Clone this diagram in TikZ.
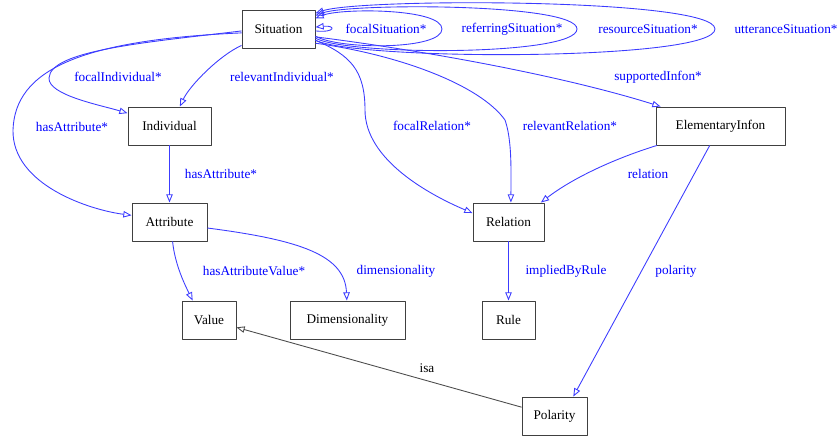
\documentclass[tikz,border=0pt]{standalone}
\usepackage{fontspec}
\setmainfont{Liberation Serif}
\usetikzlibrary{arrows.meta}
\begin{document}
\begin{tikzpicture}[x=0.03cm, y=-0.03cm, font=\fontsize{11.3}{13}\selectfont, line join=round,
  >={Triangle[open,length=7pt,width=5.5pt]},
  box/.style={draw=black!75, line width=0.8pt, minimum height=1.14cm, inner sep=0pt},
  edge/.style={->, draw={rgb,255:red,60;green,60;blue,255}, line width=0.75pt},
  isaedge/.style={->, draw=black!70, line width=0.75pt},
  lbl/.style={text=blue, inner sep=1pt}]
\useasboundingbox (0,0) rectangle (837,436);
% classes
\node[box, minimum width=2.19cm] (sit) at (278.5,29) {Situation};
\node[box, minimum width=2.49cm] (ind) at (169.5,126) {Individual};
\node[box, minimum width=2.25cm] (attr) at (169.5,222) {Attribute};
\node[box, minimum width=1.62cm] (val) at (209,320) {Value};
\node[box, minimum width=3.45cm] (dim) at (347.5,320) {Dimensionality};
\node[box, minimum width=2.13cm] (rel) at (508.5,222) {Relation};
\node[box, minimum width=1.59cm] (rule) at (508.5,320) {Rule};
\node[box, minimum width=3.87cm] (info) at (720.5,126) {ElementaryInfon};
\node[box, minimum width=1.95cm] (pol) at (554.5,416) {Polarity};
% self loops of Situation
\draw[edge] (sit.-3) .. controls (336,33) and (336,25) .. (sit.3);
\draw[edge] (sit.-11) .. controls (340,50) and (442,50) .. (442,29) .. controls (442,8) and (340,8) .. (sit.16);
\draw[edge] (sit.-14) .. controls (350,56) and (577,56) .. (577,29) .. controls (577,3) and (350,3) .. (sit.20);
\draw[edge] (sit.-17) .. controls (360,61) and (715,61) .. (715,29) .. controls (715,-2) and (360,-2) .. (sit.23);
% other edges
\draw[edge] (sit.183) .. controls (150,42) and (50,50) .. (49,78) .. controls (48,95) and (100,105) .. (ind.163);
\draw[edge] (sit.186) .. controls (80,40) and (15,70) .. (13,130) .. controls (12,185) and (90,210) .. (attr.170);
\draw[edge] (sit.204) .. controls (220,55) and (190,85) .. (ind.62);
\draw[edge] (ind.south) -- (attr.north);
\draw[edge] (attr.-81) .. controls (175,265) and (185,285) .. (val.130);
\draw[edge] (attr.-9) .. controls (300,240) and (345,255) .. (dim.92);
\draw[edge] (sit.-17) .. controls (350,55) and (365,70) .. (365,110) .. controls (365,160) and (430,195) .. (rel.166);
\draw[edge] (sit.-21) .. controls (400,55) and (480,85) .. (505,120) .. controls (512,140) and (511,170) .. (rel.83);
\draw[edge] (sit.-12) .. controls (420,50) and (560,75) .. (info.162);
\draw[edge] (info.197) .. controls (610,160) and (570,180) .. (rel.31);
\draw[edge] (info.241) -- (pol.46);
\draw[edge] (rel.south) -- (rule.north);
\draw[isaedge] (pol.165) -- (val.-15);
% labels
\node[lbl] (lfs) at (386,29) {focalSituation*};
\node[lbl] (lrfs) at (512,29) {referringSituation*};
\node[lbl] (lrss) at (648,29) {resourceSituation*};
\node[lbl] (lus) at (786,29) {utteranceSituation*};
\node[lbl] (lfi) at (118,77) {focalIndividual*};
\node[lbl] (lri) at (282,77) {relevantIndividual*};
\node[lbl] (lha) at (72,127) {hasAttribute*};
\node[lbl] (lhai) at (221,174) {hasAttribute*};
\node[lbl] (lsi) at (658,77) {supportedInfon*};
\node[lbl] (lfr) at (432,126) {focalRelation*};
\node[lbl] (lrr) at (570,126) {relevantRelation*};
\node[lbl] (lrel) at (648,174) {relation};
\node[lbl] (lhav) at (254,271) {hasAttributeValue*};
\node[lbl] (ldim) at (396,271) {dimensionality};
\node[lbl] (libr) at (566,271) {impliedByRule};
\node[lbl] (lpol) at (676,271) {polarity};
\node[inner sep=1pt] (lisa) at (427,368) {isa};
\end{tikzpicture}
\end{document}
